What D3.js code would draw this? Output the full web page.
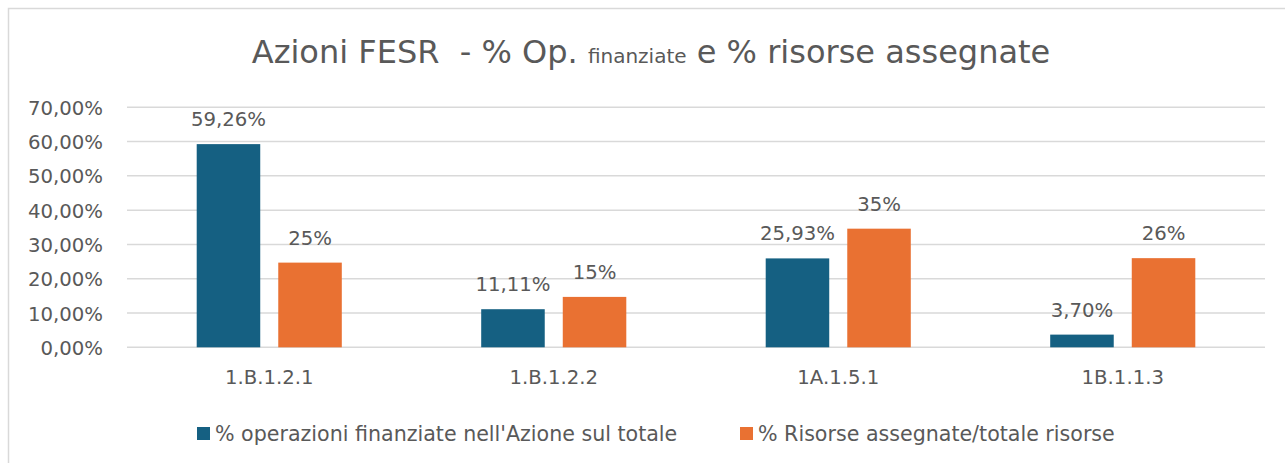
<!DOCTYPE html>
<html>
<head>
<meta charset="utf-8">
<script src="https://cdn.jsdelivr.net/npm/d3@7"></script>
<style>
  html, body { margin: 0; padding: 0; background: #fff; }
  svg { display: block; }
  text { font-family: "DejaVu Sans", sans-serif; fill: #595959; }
</style>
</head>
<body>
<svg id="chart" width="1285" height="463"></svg>
<script>
// ---- data ----
const categories = ["1.B.1.2.1", "1.B.1.2.2", "1A.1.5.1", "1B.1.1.3"];
const seriesNames = ["% operazioni finanziate nell'Azione sul totale", "% Risorse assegnate/totale risorse"];
const operazioni = [59.26, 11.11, 25.93, 3.70];
const risorse = [24.7, 14.7, 34.6, 26.0];
const yTicks = [0, 10, 20, 30, 40, 50, 60, 70];
const colors = ["#156082", "#E97132"];

const svg = d3.select("#chart");
const W = 1285, H = 463;

// outer border
svg.append("rect").attr("x", 8.5).attr("y", 8.5).attr("width", W + 20).attr("height", H + 20)
  .attr("fill", "#fff").attr("stroke", "#d9d9d9").attr("stroke-width", 1.5);

// title
const title = svg.append("text").attr("x", 651).attr("y", 63).attr("text-anchor", "middle")
  .style("white-space", "pre");
title.append("tspan").attr("font-size", "32px").text("Azioni FESR  - % Op. ");
title.append("tspan").attr("font-size", "20px").text("finanziate");
title.append("tspan").attr("font-size", "32px").text(" e % risorse assegnate");

// scales
const y = d3.scaleLinear().domain([0, 70]).range([347.3, 107.3]);
const x0 = d3.scaleBand().domain(categories).range([127, 1265]).paddingInner(0.49).paddingOuter(0.245);
const x1 = d3.scaleBand().domain([0, 1]).range([0, x0.bandwidth()]).paddingInner(0.221).paddingOuter(0);

// gridlines
const grid = svg.append("g");
grid.selectAll("line").data(yTicks).join("line")
  .attr("x1", 127).attr("x2", 1265)
  .attr("y1", d => y(d)).attr("y2", d => y(d))
  .attr("stroke", "#d9d9d9").attr("stroke-width", 1.5);

// y axis labels
const fmtAxis = d => d.toFixed(2).replace(".", ",") + "%";
const yAxis = d3.axisLeft(y).tickValues(yTicks).tickFormat(fmtAxis).tickSize(0).tickPadding(0);
const gy = svg.append("g").attr("transform", "translate(103,0)").call(yAxis);
gy.select(".domain").remove();
gy.selectAll("text").attr("font-size", "19.7px").attr("font-family", "DejaVu Sans").attr("fill", "#595959").attr("dy", "0.36em");

// x axis labels
const xAxis = d3.axisBottom(d3.scaleBand().domain(categories).range([127, 1265])).tickSize(0).tickPadding(0);
const gx = svg.append("g").attr("transform", "translate(0,370)").call(xAxis);
gx.select(".domain").remove();
gx.selectAll("text").attr("font-size", "19.7px").attr("font-family", "DejaVu Sans").attr("fill", "#595959").attr("dy", "0.72em");

// bars
const rows = categories.map((c, i) => ({ cat: c, vals: [operazioni[i], risorse[i]] }));
const groups = svg.append("g").selectAll("g").data(rows).join("g")
  .attr("transform", d => `translate(${x0(d.cat)},0)`);
groups.selectAll("rect").data(d => d.vals.map((v, s) => ({ v, s }))).join("rect")
  .attr("x", d => x1(d.s)).attr("width", x1.bandwidth())
  .attr("y", d => y(d.v)).attr("height", d => y(0) - y(d.v))
  .attr("fill", d => colors[d.s]);

// data labels
const fmtLabel = [v => v.toFixed(2).replace(".", ",") + "%", v => Math.round(v) + "%"];
groups.selectAll("text.lbl").data(d => d.vals.map((v, s) => ({ v, s }))).join("text")
  .attr("class", "lbl")
  .attr("x", d => x1(d.s) + x1.bandwidth() / 2)
  .attr("y", d => y(d.v) - 18)
  .attr("text-anchor", "middle").attr("font-size", "19.7px")
  .text(d => fmtLabel[d.s](d.v));

// legend
const legendX = [197, 740];
const leg = svg.append("g").selectAll("g").data(seriesNames).join("g")
  .attr("transform", (d, i) => `translate(${legendX[i]},427)`);
leg.append("rect").attr("width", 13).attr("height", 13).attr("fill", (d, i) => colors[i]);
leg.append("text").attr("x", 18).attr("y", 14).attr("font-size", "20.6px").text(d => d);
</script>
</body>
</html>
